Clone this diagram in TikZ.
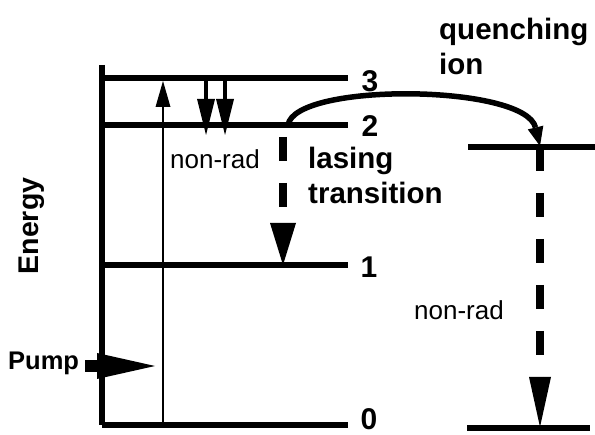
\documentclass[tikz,border=0pt]{standalone}
\usepackage{fontspec}
\setmainfont{Liberation Sans}
\usetikzlibrary{arrows.meta}

\begin{document}
\begin{tikzpicture}[x=1pt, y=-1pt,
  level/.style={line width=5.5pt},
  qlevel/.style={line width=6.5pt},
  axisline/.style={line width=5.5pt},
  pumpline/.style={line width=2.5pt, -{Triangle[length=26pt, width=15pt, line width=0pt]}},
  relax/.style={line width=4.5pt, -{Triangle[length=36pt, width=18pt, line width=0pt]}},
  dasharr/.style={line width=8pt, dash pattern=on 24pt off 22pt},
  transfer/.style={line width=5.5pt, -{Triangle[length=19pt, width=16pt, line width=0pt]}},
  pumparr/.style={line width=12pt, -{Triangle[length=58pt, width=26pt, line width=0pt]}},
  bigtxt/.style={font=\bfseries\fontsize{29.5}{35}\selectfont, align=left, inner sep=0pt},
  numtxt/.style={font=\bfseries\fontsize{30}{36}\selectfont, inner sep=0pt},
  smalltxt/.style={font=\fontsize{26}{30}\selectfont, inner sep=0pt}
]
\useasboundingbox (0,0) rectangle (595,435);

% level end points
\coordinate (axtop) at (102,65);
\coordinate (axbot) at (102,425);
\coordinate (l3w) at (102,78);  \coordinate (l3e) at (348,78);
\coordinate (l2w) at (102,125); \coordinate (l2e) at (348,125);
\coordinate (l1w) at (102,265); \coordinate (l1e) at (348,265);
\coordinate (l0w) at (102,425); \coordinate (l0e) at (348,425);
\coordinate (q1w) at (468,147); \coordinate (q1e) at (595,147);
\coordinate (q0w) at (467,428); \coordinate (q0e) at (590,428);

% energy levels
\draw[axisline] (axtop) -- (axbot);
\draw[level] (l3w) -- (l3e);
\draw[level] (l2w) -- (l2e);
\draw[level] (l1w) -- (l1e);
\draw[level] (l0w) -- (l0e);
\draw[qlevel] (q1w) -- (q1e);
\draw[qlevel] (q0w) -- (q0e);

\node[numtxt] (n3) at (370,81)  {3};
\node[numtxt] (n2) at (370,126) {2};
\node[numtxt] (n1) at (369,267) {1};
\node[numtxt] (n0) at (369,419) {0};

% transitions
\coordinate (pbot) at (163,425);
\coordinate (ptop) at (163,81);
\draw[pumpline] (pbot) -- (ptop);

\coordinate (ra) at (206,78);  \coordinate (rb) at (206,135);
\coordinate (rc) at (225,78);  \coordinate (rd) at (225,135);
\draw[relax] (ra) -- (rb);
\draw[relax] (rc) -- (rd);

\coordinate (lastop) at (283,137);
\coordinate (lasbot) at (283,265);
\draw[dasharr, -{Triangle[length=42pt, width=26pt, line width=0pt]}] (lastop) -- (lasbot);

\coordinate (xfrom) at (288,125);
\coordinate (xto) at (540,146);
\draw[transfer] (xfrom) .. controls (295,82) and (525,84) .. (xto);

\coordinate (qtop) at (540,147);
\coordinate (qbot) at (540,427);
\draw[dasharr, -{Triangle[length=50pt, width=22pt, line width=0pt]}] (qtop) -- (qbot);

\coordinate (pin) at (85,366);
\coordinate (ptip) at (155,366);
\draw[pumparr] (pin) -- (ptip);

% labels
\node[smalltxt] (nr1) at (215,159) {non-rad};
\node[smalltxt] (nr2) at (459,310) {non-rad};
\node[bigtxt, anchor=north west] (lase) at (308,147) {lasing\\transition};
\node[bigtxt, anchor=north west] (quen) at (439,18) {quenching\\ion};
\node[font=\bfseries\fontsize{25.5}{30}\selectfont, inner sep=0pt, anchor=base west] (pump) at (8,370) {Pump};
\node[font=\bfseries\fontsize{28.5}{30}\selectfont, inner sep=0pt, anchor=base, rotate=90] (energy) at (38,226) {Energy};

\end{tikzpicture}
\end{document}
